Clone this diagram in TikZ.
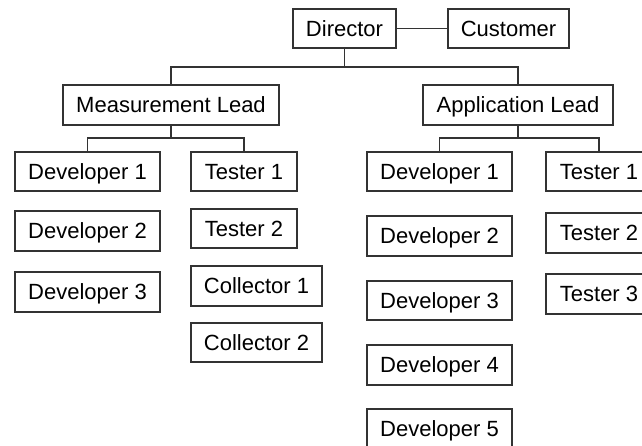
\documentclass[tikz,border=0pt]{standalone}
\usepackage{fontspec}
\setmainfont{Liberation Sans}
\begin{document}
\begin{tikzpicture}[x=1pt,y=-1pt,
  box/.style={draw=black!80, line width=1.1pt, fill=white, inner sep=0pt,
    font=\fontsize{22}{24}\selectfont, text=black,
    text height=15.6pt, text depth=0pt},
  link/.style={draw=black!80, line width=1.1pt}]
\useasboundingbox (0,0) rectangle (642,446);
\clip (0,0) rectangle (642,446);
% top
\node[box, minimum width=103pt, minimum height=39pt] (dir) at (344.5,28.5) {Director};
\node[box, minimum width=121pt, minimum height=39pt] (cust) at (508.5,28.5) {Customer};
\node[box, minimum width=216pt, minimum height=40pt] (ml) at (171,105) {Measurement Lead};
\node[box, minimum width=190pt, minimum height=40pt] (al) at (518,105) {Application Lead};
% measurement team
\node[box, minimum width=145pt, minimum height=39pt] (md1) at (87.5,171.5) {Developer 1};
\node[box, minimum width=145pt, minimum height=40pt] (md2) at (87.5,231) {Developer 2};
\node[box, minimum width=145pt, minimum height=40pt] (md3) at (87.5,292) {Developer 3};
\node[box, minimum width=106pt, minimum height=39pt] (mt1) at (244,171.5) {Tester 1};
\node[box, minimum width=106pt, minimum height=39pt] (mt2) at (244,228.5) {Tester 2};
\node[box, minimum width=131pt, minimum height=40pt] (mc1) at (256.5,286) {Collector 1};
\node[box, minimum width=131pt, minimum height=39pt] (mc2) at (256.5,342.5) {Collector 2};
% application team
\node[box, minimum width=145pt, minimum height=39pt] (ad1) at (439.5,171.5) {Developer 1};
\node[box, minimum width=145pt, minimum height=40pt] (ad2) at (439.5,236) {Developer 2};
\node[box, minimum width=145pt, minimum height=39pt] (ad3) at (439.5,300.5) {Developer 3};
\node[box, minimum width=145pt, minimum height=40pt] (ad4) at (439.5,365) {Developer 4};
\node[box, minimum width=145pt, minimum height=40pt] (ad5) at (439.5,429) {Developer 5};
\node[box, minimum width=106pt, minimum height=39pt] (at1) at (599,171.5) {Tester 1};
\node[box, minimum width=106pt, minimum height=40pt] (at2) at (599,233) {Tester 2};
\node[box, minimum width=106pt, minimum height=40pt] (at3) at (599,294) {Tester 3};
% junctions
\coordinate (j0) at (344.5,67);
\coordinate (j1) at (171,138);
\coordinate (j2) at (518,138);
% connectors
\draw[link] (dir.east) -- (cust.west);
\draw[link] (dir.south) -- (j0);
\draw[link] (j0) -| (ml.north);
\draw[link] (j0) -| (al.north);
\draw[link] (ml.south) -- (j1);
\draw[link] (j1) -| (md1.north);
\draw[link] (j1) -| (mt1.north);
\draw[link] (al.south) -- (j2);
\draw[link] (j2) -| (ad1.north);
\draw[link] (j2) -| (at1.north);
\end{tikzpicture}
\end{document}
